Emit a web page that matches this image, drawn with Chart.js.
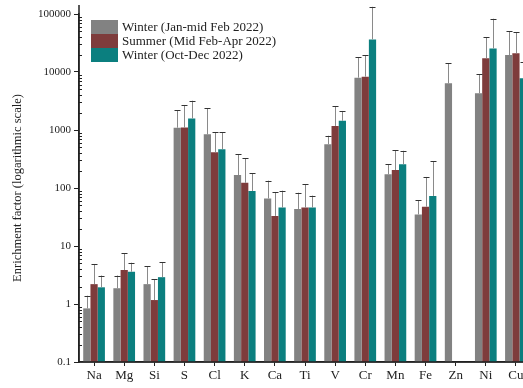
<!DOCTYPE html>
<html>
<head>
<meta charset="utf-8">
<script src="https://cdn.jsdelivr.net/npm/chart.js@4"></script>
<style>
  html, body { margin: 0; padding: 0; background: #fff; overflow: hidden; }
  #wrap { position: relative; width: 540px; height: 388px; }
  #legend { position: absolute; left: 91px; top: 20px; font-family: "Liberation Serif", serif; font-size: 13px; color: #222; }
  .row { display: flex; align-items: center; height: 14px; }
  .box { width: 27px; height: 14px; margin-right: 4px; }
</style>
</head>
<body>
<div id="wrap">
  <canvas id="myChart" width="540" height="388"></canvas>
  <div id="legend"></div>
</div>
<script>
var categories = ["Na", "Mg", "Si", "S", "Cl", "K", "Ca", "Ti", "V", "Cr", "Mn", "Fe", "Zn", "Ni", "Cu"];
var seriesNames = ["Winter (Jan-mid Feb 2022)", "Summer (Mid Feb-Apr 2022)", "Winter (Oct-Dec 2022)"];
var colors = ["#828282", "#7e3c3c", "#0b7f7f"];

// mean enrichment factors
var winterEarly = [0.84, 1.87, 2.2, 1096, 843, 167, 66, 43.5, 567, 7990, 172, 35, 6380, 4300, 19600];
var summer = [2.2, 3.86, 1.17, 1100, 412, 123, 33, 46, 1175, 8300, 204, 47.6, null, 17200, 21000];
var winterLate = [1.94, 3.6, 2.9, 1585, 465, 89, 46, 46, 1445, 36500, 256, 73, null, 25500, 7800];

// top of the error bars
var winterEarlyErr = [1.39, 3.1, 4.5, 2210, 2370, 380, 134, 83, 796, 17900, 259, 61, 14100, 9100, 50900];
var summerErr = [4.9, 7.5, 2.66, 2700, 913, 326, 84, 116, 2590, 19600, 452, 155, null, 39600, 48300];
var winterLateErr = [3.1, 5.15, 5.3, 3200, 913, 179, 90, 74, 2130, 133000, 438, 288, null, 83000, 14900];

var yTicks = [0.1, 1, 10, 100, 1000, 10000, 100000];

var errs = [winterEarlyErr, summerErr, winterLateErr];
var serif = "'Liberation Serif', 'Times New Roman', serif";

// legend
var html = "";
for (var k = 0; k < seriesNames.length; k++) {
    html += '<div class="row"><div class="box" style="background:' + colors[k] + '"></div>' + seriesNames[k] + '</div>';
}
document.getElementById("legend").innerHTML = html;

var errorBars = {
    id: 'errorBars',
    afterDatasetsDraw: function (chart) {
        var ctx = chart.ctx;
        var y = chart.scales.y;
        ctx.save();
        ctx.lineWidth = 1;
        chart.data.datasets.forEach(function (ds, di) {
            var meta = chart.getDatasetMeta(di);
            meta.data.forEach(function (bar, i) {
                var v = ds.data[i], e = errs[di][i];
                if (v == null || e == null) return;
                var x = Math.round(bar.x) + 0.5;
                var y0 = y.getPixelForValue(v), y1 = y.getPixelForValue(e);
                ctx.strokeStyle = '#8a8a8a';
                ctx.beginPath();
                ctx.moveTo(x, y0);
                ctx.lineTo(x, y1);
                ctx.stroke();
                ctx.strokeStyle = '#333';
                ctx.beginPath();
                ctx.moveTo(x - 3, Math.round(y1) + 0.5);
                ctx.lineTo(x + 3, Math.round(y1) + 0.5);
                ctx.stroke();
            });
        });
        ctx.restore();
    }
};

// minor log ticks inside the y axis + axis lines on top of the bars
var axisExtras = {
    id: 'axisExtras',
    afterDraw: function (chart) {
        var ctx = chart.ctx;
        var y = chart.scales.y;
        var area = chart.chartArea;
        ctx.save();
        ctx.strokeStyle = '#222';
        ctx.lineWidth = 1;
        for (var d = 0; d < yTicks.length - 1; d++) {
            for (var m = 2; m <= 9; m++) {
                var py = Math.round(y.getPixelForValue(yTicks[d] * m)) + 0.5;
                ctx.beginPath();
                ctx.moveTo(area.left, py);
                ctx.lineTo(area.left + 3, py);
                ctx.stroke();
            }
        }
        ctx.lineWidth = 1.5;
        ctx.beginPath();
        ctx.moveTo(area.left, area.bottom);
        ctx.lineTo(area.right, area.bottom);
        ctx.moveTo(area.left, area.bottom);
        ctx.lineTo(area.left, area.top - 9);
        ctx.stroke();
        ctx.restore();
    }
};

var ctx = document.getElementById('myChart').getContext('2d');
var chart = new Chart(ctx, {
    type: 'bar',
    data: {
        labels: categories,
        datasets: [
            { label: seriesNames[0], data: winterEarly, backgroundColor: colors[0] },
            { label: seriesNames[1], data: summer, backgroundColor: colors[1] },
            { label: seriesNames[2], data: winterLate, backgroundColor: colors[2] }
        ]
    },
    options: {
        responsive: false,
        animation: false,
        categoryPercentage: 0.72,
        barPercentage: 1.0,
        layout: { padding: { top: 14, right: 9, left: 10, bottom: 0 } },
        plugins: {
            legend: { display: false },
            tooltip: { enabled: false }
        },
        scales: {
            x: {
                afterFit: function (s) { s.height = 26; },
                grid: { display: true, drawOnChartArea: false, offset: false, tickLength: 4, color: '#222' },
                border: { color: '#222', width: 1.5 },
                ticks: { color: '#222', font: { family: serif, size: 13 }, padding: 2, autoSkip: false, maxRotation: 0 }
            },
            y: {
                type: 'logarithmic',
                min: 0.1,
                max: 100000,
                afterFit: function (s) { s.width = 69; },
                afterBuildTicks: function (s) {
                    s.ticks = yTicks.map(function (v) { return { value: v }; });
                },
                grid: { display: true, drawOnChartArea: false, tickLength: 5, color: '#222' },
                border: { color: '#222', width: 1.5 },
                ticks: {
                    color: '#222',
                    font: { family: serif, size: 11 },
                    padding: 3,
                    callback: function (v) { return String(v); }
                },
                title: {
                    display: true,
                    text: 'Enrichment factor (logarithmic scale)',
                    color: '#222',
                    font: { family: serif, size: 12.5 },
                    padding: { top: 0, bottom: 6 }
                }
            }
        }
    },
    plugins: [errorBars, axisExtras]
});
</script>
</body>
</html>
